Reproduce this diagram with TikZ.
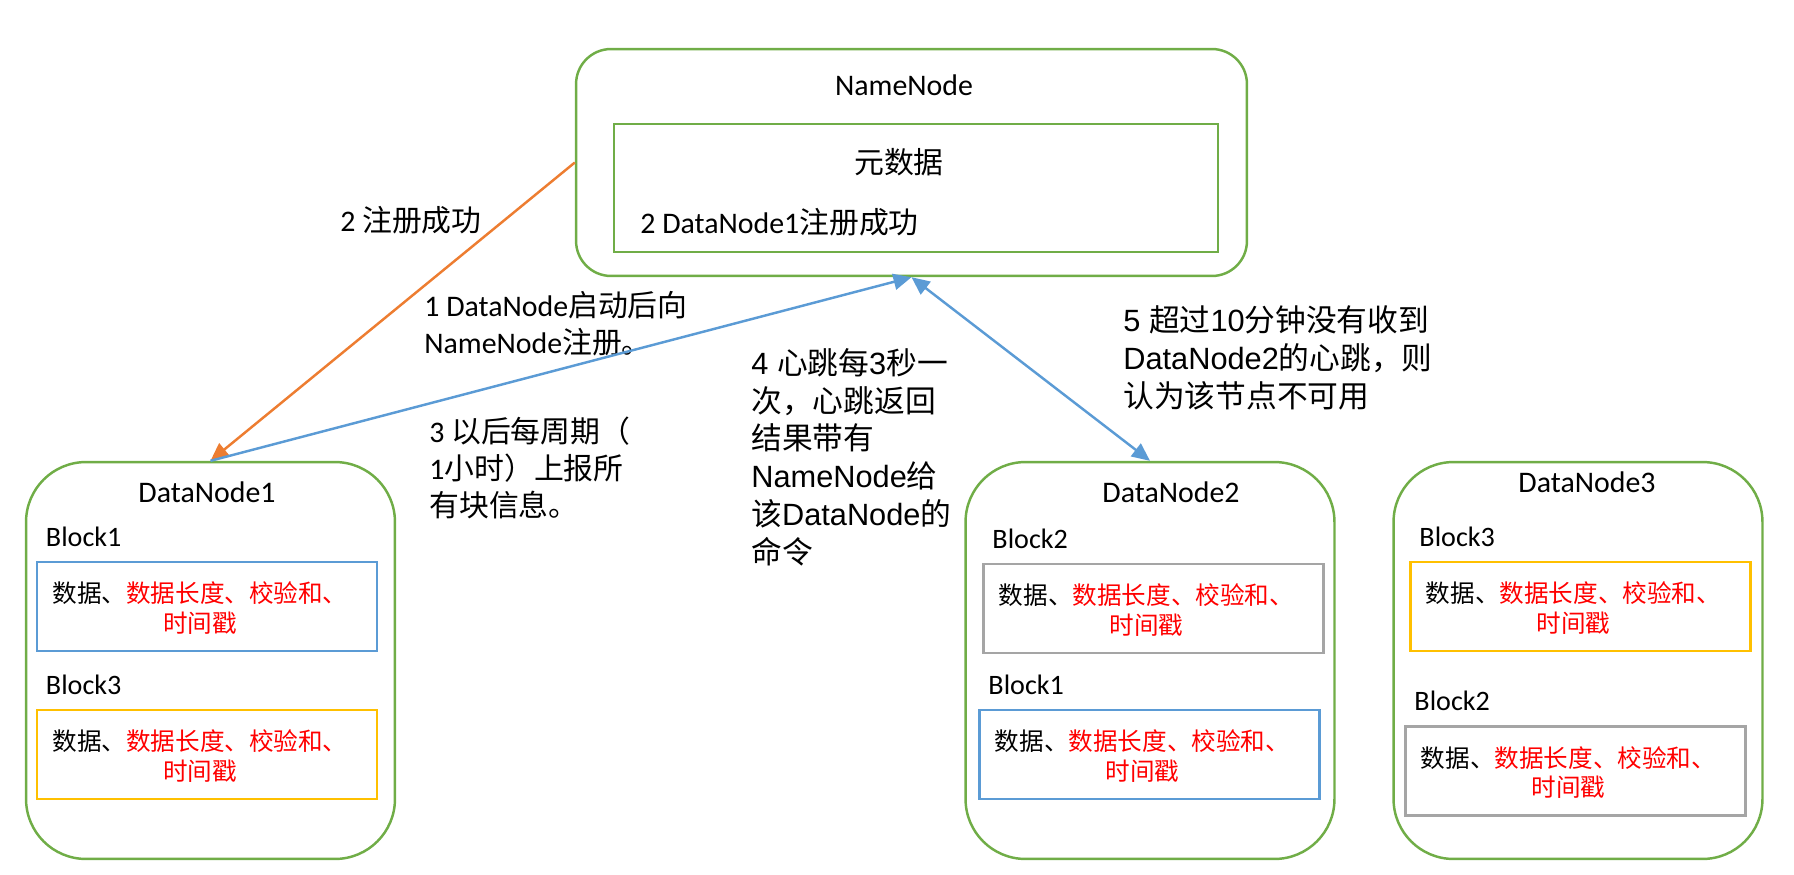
\documentclass[tikz,border=0pt]{standalone}
\usepackage{fontspec}
\setmainfont{Carlito}
\newfontfamily\cjk{Noto Sans CJK SC}
\newfontfamily\arialf{Liberation Sans}
\newcommand{\zhs}[1]{{\cjk #1}}
\newcommand{\fsLbl}{\fontsize{17}{21}\selectfont}
\newcommand{\fsBig}{\arialf\fontsize{17.5}{21.5}\selectfont}
\newcommand{\fsBlk}{\fontsize{16}{19}\selectfont}
\newcommand{\fsTxt}{\fontsize{14}{17}\selectfont}
\usetikzlibrary{arrows.meta,positioning}
\definecolor{nodegreen}{HTML}{70AD47}
\definecolor{regorange}{HTML}{ED7D31}
\definecolor{beatblue}{HTML}{5B9BD5}
\definecolor{blkblue}{HTML}{5B9BD5}
\definecolor{blkgray}{HTML}{A5A5A5}
\definecolor{blkgold}{HTML}{FFC000}
\definecolor{hl}{HTML}{FF0000}
\newcommand{\blktext}{\zhs{数据、}\textcolor{hl}{\zhs{数据长度、校验和、}}\\\textcolor{hl}{\zhs{时间戳}}}

\begin{document}
\begin{tikzpicture}[x=0.02cm,y=-0.02cm,
  dn/.style={draw=nodegreen,line width=1.4pt,rounded corners=1.2cm,
             minimum width=7.38cm,minimum height=7.94cm},
  blk/.style={draw,line width=1.6pt,minimum width=6.8cm,minimum height=1.78cm,inner sep=0pt},
  btxt/.style={align=center,font=\fsTxt,inner sep=0pt,xshift=-0.14cm,yshift=-0.03cm},
  bname/.style={font=\fsBlk,inner sep=0pt,above right=0.28cm and 0.2cm of #1.north west},
  lbl/.style={align=left,anchor=west,inner sep=0pt,font=\fsLbl},
  arr/.style={line width=1.4pt,-{Triangle[length=0.36cm,width=0.32cm]}},
  darr/.style={line width=1.4pt,{Triangle[length=0.36cm,width=0.32cm]}-{Triangle[length=0.36cm,width=0.32cm]}}
]
\useasboundingbox (0,0) rectangle (1794,875);

% NameNode
\node[draw=nodegreen,line width=1.4pt,rounded corners=0.7cm,
      minimum width=13.42cm,minimum height=4.54cm] (nn) at (911.5,162.5) {};
\node[font=\fsLbl,inner sep=0pt] (nntitle) at (904,85) {NameNode};
\node[draw=nodegreen,line width=1.4pt,minimum width=12.08cm,minimum height=2.56cm] (meta) at (916,188) {};
\node[font=\fsLbl,inner sep=0pt] (metatitle) at (899,162) {\zhs{元数据}};
\node[lbl] (metaline) at (640,222) {2 DataNode1\zhs{注册成功}};

% DataNodes
\node[dn] (dn1) at (210.5,660.5) {};
\node[dn] (dn2) at (1150,660.5) {};
\node[dn] (dn3) at (1578,660.5) {};
\node[font=\fsLbl,inner sep=0pt] (dn1title) at (207,492) {DataNode1};
\node[font=\fsLbl,inner sep=0pt] (dn2title) at (1171,492) {DataNode2};
\node[font=\fsLbl,inner sep=0pt] (dn3title) at (1587,482) {DataNode3};

% blocks
\node[blk,draw=blkblue] (b11) at (207,606.5) {};
\node[blk,draw=blkgold] (b13) at (207,754.5) {};
\node[blk,draw=blkgray] (b22) at (1153.5,608.5) {};
\node[blk,draw=blkblue] (b21) at (1149.5,754.5) {};
\node[blk,draw=blkgold] (b33) at (1580.5,606.5) {};
\node[blk,draw=blkgray] (b32) at (1575.5,771) {};
\node[btxt] (t11) at (b11) {\blktext};
\node[btxt] (t13) at (b13) {\blktext};
\node[btxt] (t22) at (b22) {\blktext};
\node[btxt] (t21) at (b21) {\blktext};
\node[btxt] (t33) at (b33) {\blktext};
\node[btxt] (t32) at (b32) {\blktext};
\node[bname=b11] (n11) {Block1};
\node[bname=b13] (n13) {Block3};
\node[bname=b22] (n22) {Block2};
\node[bname=b21] (n21) {Block1};
\node[bname=b33] (n33) {Block3};
\node[bname=b32] (n32) {Block2};

% labels
\node[lbl] (l2) at (340,220) {2 \zhs{注册成功}};
\node[lbl] (l1) at (424,324) {1 DataNode\zhs{启动后向}\\NameNode\zhs{注册。}};
\node[lbl] (l3) at (429,468) {3 \zhs{以后每周期（}\\1\zhs{小时）上报所}\\\zhs{有块信息。}};
\node[lbl,font=\fsBig] (l4) at (751,457) {4 \zhs{心跳每}3\zhs{秒一}\\\zhs{次，心跳返回}\\\zhs{结果带有}\\NameNode\zhs{给}\\\zhs{该}DataNode\zhs{的}\\\zhs{命令}};
\node[lbl,font=\fsBig] (l5) at (1123,358) {5 \zhs{超过}10\zhs{分钟没有收到}\\DataNode2\zhs{的心跳，则}\\\zhs{认为该节点不可用}};

% arrows
\draw[arr,regorange] (nn.west) -- (dn1.north);
\draw[arr,beatblue] (dn1.north) -- (nn.south);
\draw[darr,beatblue] (nn.south) -- (dn2.north);
\end{tikzpicture}
\end{document}
